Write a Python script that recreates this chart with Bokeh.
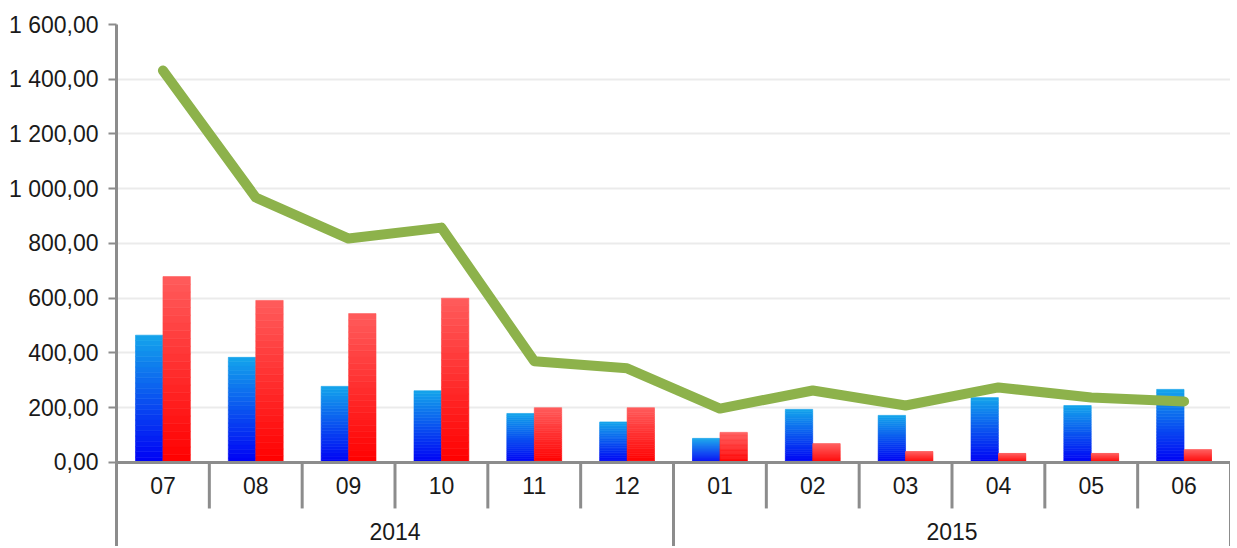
from bokeh.plotting import figure
from bokeh.models import (FactorRange, FixedTicker, CategoricalAxis, ColumnDataSource,
                          Range1d)
from bokeh.transform import dodge
from bokeh.embed import file_html
from bokeh.resources import INLINE

# ---- data ----
months = ["07", "08", "09", "10", "11", "12", "01", "02", "03", "04", "05", "06"]
years = ["2014", "2015"]
months_per_year = [6, 6]
blue_values = [465, 384, 278, 262, 179, 148, 88, 194, 172, 237, 208, 267]
red_values = [679, 592, 544, 600, 200, 200, 110, 69, 40, 33, 33, 47]
line_values = [1432, 968, 818, 858, 370, 344, 197, 263, 208, 274, 237, 223]
y_ticks = [0, 200, 400, 600, 800, 1000, 1200, 1400, 1600]
y_tick_labels = ["0,00", "200,00", "400,00", "600,00", "800,00", "1 000,00",
                 "1 200,00", "1 400,00", "1 600,00"]

FONT = "'Liberation Sans Narrow', 'Arial Narrow', 'Liberation Sans', Arial, sans-serif"
FONT_SIZE = "23px"
AXIS_COLOR = "#8c8c8c"
TEXT_COLOR = "#1a1a1a"

p = figure(width=1230, height=546, output_backend="svg", toolbar_location=None,
           x_range=FactorRange(factors=months, range_padding=0, factor_padding=0),
           y_range=Range1d(-307, 1600),
           min_border_left=116, min_border_top=24, min_border_right=0, min_border_bottom=0)
p.outline_line_color = None
p.background_fill_color = "white"
p.border_fill_color = "white"

# ---- gradient bars (slices of each bar) ----
N = 24
def lerp(c0, c1, t):
    return "#%02x%02x%02x" % tuple(int(round(a + (b - a) * t)) for a, b in zip(c0, c1))

def gradient_bars(values, offset, bottom_col, top_col):
    xs, bots, tops, cols = [], [], [], []
    for m, v in zip(months, values):
        for k in range(N):
            xs.append(m)
            bots.append(v * k / N)
            tops.append(v * (k + 1) / N)
            cols.append(lerp(bottom_col, top_col, (k + 0.5) / N))
    src = ColumnDataSource(dict(x=xs, bottom=bots, top=tops, color=cols))
    p.vbar(x=dodge("x", offset, range=p.x_range), bottom="bottom", top="top", width=0.295,
           fill_color="color", line_color="color", line_width=0.6, source=src)

gradient_bars(blue_values, -0.148, (0, 0, 245), (20, 165, 235))
gradient_bars(red_values, 0.148, (255, 0, 0), (255, 92, 92))

# ---- line ----
p.line(x=months, y=line_values, line_color="#8db24b", line_width=10,
       line_join="round", line_cap="round")

# ---- separators in the category axis area ----
bounds = list(range(len(months) + 1))
year_bounds = [0]
for n in months_per_year:
    year_bounds.append(year_bounds[-1] + n)
month_only = [b for b in bounds if b not in year_bounds]
p.segment(x0=month_only, x1=month_only, y0=[0] * len(month_only), y1=[-168] * len(month_only),
          line_color=AXIS_COLOR, line_width=3)
p.segment(x0=year_bounds, x1=year_bounds, y0=[0] * len(year_bounds), y1=[-307] * len(year_bounds),
          line_color=AXIS_COLOR, line_width=3)

# ---- y axis ----
p.yaxis.ticker = FixedTicker(ticks=y_ticks)
p.yaxis.major_label_overrides = {t: l for t, l in zip(y_ticks, y_tick_labels)}
p.yaxis.axis_line_color = AXIS_COLOR
p.yaxis.axis_line_width = 3
p.yaxis.major_tick_line_color = AXIS_COLOR
p.yaxis.major_tick_line_width = 2
p.yaxis.major_tick_out = 8
p.yaxis.major_tick_in = 0
p.yaxis.minor_tick_line_color = None
p.yaxis.major_label_standoff = 10
p.yaxis.major_label_text_font = FONT
p.yaxis.major_label_text_font_size = FONT_SIZE
p.yaxis.major_label_text_color = TEXT_COLOR

p.ygrid.ticker = FixedTicker(ticks=y_ticks)
p.ygrid.grid_line_color = "#ebebeb"
p.ygrid.grid_line_width = 2
p.xgrid.grid_line_color = None

# ---- x axes: months and years ----
p.xaxis.fixed_location = 0
p.xaxis.axis_line_color = AXIS_COLOR
p.xaxis.axis_line_width = 3
p.xaxis.major_tick_line_color = None
p.xaxis.minor_tick_line_color = None
p.xaxis.major_label_standoff = 9
p.xaxis.major_label_text_font = FONT
p.xaxis.major_label_text_font_size = FONT_SIZE
p.xaxis.major_label_text_color = TEXT_COLOR

p.extra_x_ranges = {"years": FactorRange(factors=years, range_padding=0, factor_padding=0)}
year_axis = CategoricalAxis(x_range_name="years", fixed_location=0,
                            axis_line_color=None, major_tick_line_color=None,
                            minor_tick_line_color=None, major_label_standoff=55,
                            major_label_text_font=FONT, major_label_text_font_size=FONT_SIZE,
                            major_label_text_color=TEXT_COLOR)
p.add_layout(year_axis, "below")

open("out.html", "w").write(file_html(p, INLINE))
